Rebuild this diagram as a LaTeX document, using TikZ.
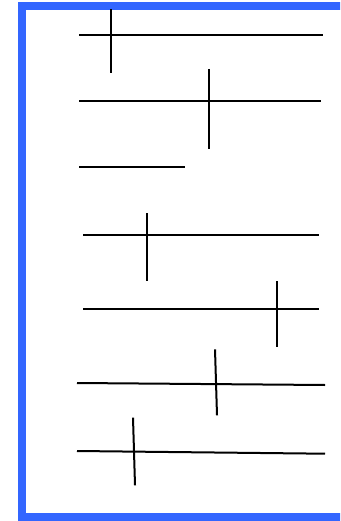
\documentclass[tikz,border=0pt]{standalone}
\begin{document}
\begin{tikzpicture}[x=1pt,y=-1pt,
  bar/.style={line width=2pt,black},
  frame/.style={line width=8pt,draw={rgb,255:red,51;green,102;blue,255}}]
\useasboundingbox (0,0) rectangle (340,521);
\clip (0,0) rectangle (340,521);
\draw[frame] (350,6) -- (22,6) -- (22,517) -- (350,517);
% 1
\draw[bar] (79,34.7) -- (323,34.7);
\draw[bar] (111,9) -- (111,73);
% 2
\draw[bar] (79,101) -- (321,101);
\draw[bar] (209,69) -- (209,149);
% 3
\draw[bar] (79,166.7) -- (185,166.7);
% 4
\draw[bar] (83,235.3) -- (319,235.3);
\draw[bar] (147,213.3) -- (147,281);
% 5
\draw[bar] (83,309) -- (319,309);
\draw[bar] (276.7,281.3) -- (276.7,346.7);
% 6
\draw[bar] (77,383) -- (325,385);
\draw[bar] (215,349.3) -- (217,415.3);
% 7
\draw[bar] (77,451) -- (325,453.7);
\draw[bar] (133,417.7) -- (135,485.3);
\end{tikzpicture}
\end{document}
